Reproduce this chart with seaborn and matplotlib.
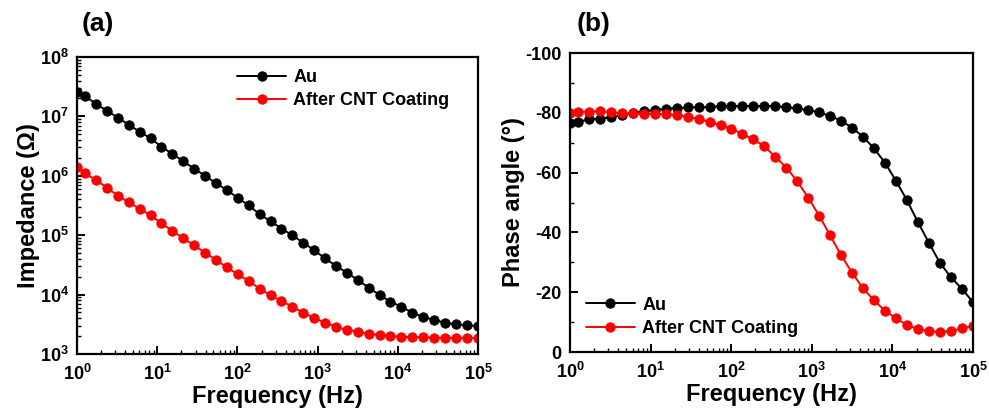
import numpy as np
import matplotlib
matplotlib.use("Agg")
import matplotlib.pyplot as plt
import matplotlib.ticker as mticker
import seaborn as sns
import pandas as pd

# Frequency sweep (Hz)
freq = [1.0, 1.259, 1.722, 2.355, 3.221, 4.406, 6.026, 8.241, 11.27, 15.42,
        21.09, 28.84, 39.45, 53.95, 73.79, 100.9, 138.0, 188.8, 258.2, 353.2,
        483.1, 660.7, 903.6, 1236, 1690, 2312, 3162, 4325, 5916, 8091,
        11066, 15136, 20701, 28314, 38726, 52966, 72444, 100000]

# |Z| (Ohm)
z_au = [2.6e7, 2.20e7, 1.62e7, 1.25e7, 9.5e6, 7.25e6, 5.52e6, 4.28e6, 3.09e6, 2.33e6,
        1.75e6, 1.32e6, 1.00e6, 7.49e5, 5.77e5, 4.23e5, 3.19e5, 2.25e5, 1.73e5, 1.29e5,
        9.95e4, 7.48e4, 5.57e4, 4.08e4, 3.03e4, 2.34e4, 1.76e4, 1.31e4, 9.84e3, 7.59e3,
        6.25e3, 4.95e3, 4.20e3, 3.73e3, 3.37e3, 3.16e3, 3.04e3, 2.96e3]
z_cnt = [1.41e6, 1.10e6, 8.49e5, 6.31e5, 4.63e5, 3.58e5, 2.78e5, 2.16e5, 1.59e5, 1.18e5,
         8.87e4, 6.76e4, 5.07e4, 3.82e4, 2.88e4, 2.20e4, 1.69e4, 1.26e4, 9.73e3, 7.80e3,
         6.25e3, 4.95e3, 4.03e3, 3.37e3, 2.88e3, 2.54e3, 2.38e3, 2.20e3, 2.09e3, 2.01e3,
         1.96e3, 1.93e3, 1.91e3, 1.88e3, 1.88e3, 1.88e3, 1.88e3, 1.86e3]

# Phase angle (degrees)
ph_au = [-76.5, -77.0, -77.8, -78.1, -78.5, -79.2, -80.0, -80.6, -80.9, -81.4,
         -81.6, -81.8, -81.9, -82.0, -82.2, -82.3, -82.3, -82.3, -82.3, -82.3,
         -81.8, -81.5, -80.9, -80.2, -78.9, -77.4, -75.0, -72.0, -68.1, -63.3,
         -57.3, -50.8, -43.5, -36.6, -29.9, -25.1, -21.2, -16.7]
ph_cnt = [-79.8, -80.4, -80.4, -80.6, -80.2, -79.8, -79.8, -79.7, -79.6, -79.5,
          -79.3, -78.7, -77.9, -77.0, -75.9, -74.6, -72.9, -71.1, -68.8, -65.3,
          -61.7, -57.1, -51.6, -45.6, -39.0, -32.4, -26.5, -21.3, -17.3, -13.8,
          -11.3, -9.0, -7.7, -7.0, -6.7, -7.0, -7.9, -8.7]

series_names = ["Au", "After CNT Coating"]
series_colors = ["black", "#ff0000"]

sns.set_style("ticks")
plt.rcParams["font.family"] = ["Liberation Sans", "DejaVu Sans"]
plt.rcParams["font.weight"] = "bold"
plt.rcParams["axes.labelweight"] = "bold"
plt.rcParams["axes.unicode_minus"] = False
plt.rcParams["mathtext.fontset"] = "custom"
plt.rcParams["mathtext.rm"] = "Liberation Sans:bold"
plt.rcParams["mathtext.bf"] = "Liberation Sans:bold"
plt.rcParams["mathtext.it"] = "Liberation Sans:bold"
plt.rcParams["legend.numpoints"] = 1
for key in ("text.color", "axes.labelcolor", "xtick.color", "ytick.color",
            "axes.edgecolor", "xtick.labelcolor", "ytick.labelcolor"):
    plt.rcParams[key] = "black"

df_z = pd.DataFrame({
    "freq": freq * 2,
    "value": z_au + z_cnt,
    "sample": [series_names[0]] * len(freq) + [series_names[1]] * len(freq),
})
df_p = pd.DataFrame({
    "freq": freq * 2,
    "value": ph_au + ph_cnt,
    "sample": [series_names[0]] * len(freq) + [series_names[1]] * len(freq),
})

fig = plt.figure(figsize=(9.89, 4.12), dpi=100)
ax_a = fig.add_axes([0.0779, 0.1408, 0.4055, 0.7209])
ax_b = fig.add_axes([0.5763, 0.1456, 0.4075, 0.7257])

line_kw = dict(marker="o", markersize=6.8, linewidth=1.4, markeredgewidth=0.6)


def draw(ax, df):
    for name, col in zip(series_names, series_colors):
        sub = df[df["sample"] == name]
        sns.lineplot(data=sub, x="freq", y="value", ax=ax, color=col,
                     markeredgecolor=col, label=name, sort=False, **line_kw)


draw(ax_a, df_z)
draw(ax_b, df_p)


def pow_fmt(v, pos):
    if v <= 0:
        return ""
    e = int(round(np.log10(v)))
    return r"$\mathbf{10^{%d}}$" % e


for ax in (ax_a, ax_b):
    ax.set_xscale("log")
    ax.set_xlim(1, 1e5)
    ax.xaxis.set_major_locator(mticker.LogLocator(base=10, numticks=10))
    ax.xaxis.set_minor_locator(mticker.LogLocator(base=10, subs=np.arange(2, 10), numticks=10))
    ax.xaxis.set_major_formatter(mticker.FuncFormatter(pow_fmt))
    ax.xaxis.set_minor_formatter(mticker.NullFormatter())
    ax.set_xlabel("Frequency (Hz)", fontsize=17, fontweight="bold", labelpad=1)
    for s in ax.spines.values():
        s.set_linewidth(1.6)
        s.set_visible(True)
        s.set_color("black")
    ax.tick_params(axis="both", which="major", direction="in", length=6, width=1.4,
                   labelsize=13, top=False, right=False, colors="black")
    ax.tick_params(axis="x", which="major", pad=7)
    ax.tick_params(axis="y", which="major", pad=6)
    ax.tick_params(axis="both", which="minor", direction="in", length=3, width=1.0,
                   top=False, right=False, colors="black")
    for lab in ax.get_xticklabels() + ax.get_yticklabels():
        lab.set_fontweight("bold")

ax_a.set_yscale("log")
ax_a.set_ylim(1e3, 1e8)
ax_a.yaxis.set_major_locator(mticker.LogLocator(base=10, numticks=10))
ax_a.yaxis.set_minor_locator(mticker.LogLocator(base=10, subs=np.arange(2, 10), numticks=10))
ax_a.yaxis.set_major_formatter(mticker.FuncFormatter(pow_fmt))
ax_a.yaxis.set_minor_formatter(mticker.NullFormatter())
ax_a.set_ylabel("Impedance (\u03a9)", fontsize=17, fontweight="bold", labelpad=0)

ax_b.set_ylim(0, -100)
ax_b.yaxis.set_major_locator(mticker.MultipleLocator(20))
ax_b.yaxis.set_minor_locator(mticker.MultipleLocator(10))
ax_b.yaxis.set_major_formatter(mticker.FormatStrFormatter("%d"))
ax_b.set_ylabel("Phase angle (\u00b0)", fontsize=17, fontweight="bold", labelpad=0)

leg_kw = dict(frameon=False, fontsize=13, handlelength=2.7, handletextpad=0.4,
              labelspacing=0.35, borderaxespad=0.0, borderpad=0.0)
ax_a.legend(loc="upper left", bbox_to_anchor=(0.40, 0.96), **leg_kw)
ax_b.legend(loc="lower left", bbox_to_anchor=(0.04, 0.05), **leg_kw)
for leg in (ax_a.get_legend(), ax_b.get_legend()):
    for t in leg.get_texts():
        t.set_fontweight("bold")
        t.set_color("black")

fig.text(0.083, 0.942, "(a)", fontsize=19, fontweight="bold", ha="left", va="center")
fig.text(0.583, 0.942, "(b)", fontsize=19, fontweight="bold", ha="left", va="center")

fig.savefig("out.png", dpi=100, facecolor="white")
